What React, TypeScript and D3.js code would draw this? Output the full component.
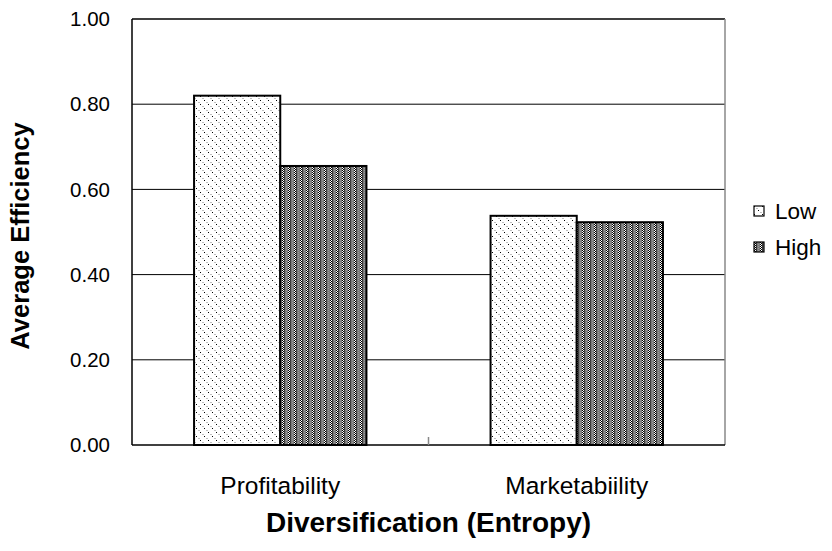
import React from "react";
import * as d3 from "d3";

const categories = ["Profitability", "Marketabiility"];
const seriesNames = ["Low", "High"];
const lowValues = [0.82, 0.538];
const highValues = [0.655, 0.523];
const yTicks = [0, 0.2, 0.4, 0.6, 0.8, 1.0];

const W = 832;
const H = 551;
const left = 132;
const right = 725;
const top = 19;
const bottom = 445;

export default function App() {
  const values = [lowValues, highValues]; // values[series][cat]
  const x = d3.scaleBand<string>().domain(categories).range([left, right]).paddingInner(0).paddingOuter(0);
  const inner = d3.scaleBand<string>().domain(seriesNames).range([0, x.bandwidth()]).paddingInner(0).paddingOuter(0.72);
  const y = d3.scaleLinear().domain([0, 1]).range([bottom, top]);
  const fmt = d3.format(".2f");
  const fills = ["url(#patLow)", "url(#patHigh)"];
  const font = "Arial, 'Liberation Sans', sans-serif";

  return (
    <svg width={W} height={H} style={{ position: "absolute", left: 0, top: 0 }} fontFamily={font}>
      <defs>
        <pattern id="patLow" width="8" height="8" patternUnits="userSpaceOnUse">
          <rect width="8" height="8" fill="#ffffff" />
          <rect x="0" y="0" width="1" height="1" fill="#000" />
          <rect x="4" y="4" width="1" height="1" fill="#000" />
          <rect x="2" y="2" width="2" height="1" fill="#c0c0c0" />
          <rect x="6" y="6" width="2" height="1" fill="#c0c0c0" />
        </pattern>
        <pattern id="patHigh" width="6" height="2" patternUnits="userSpaceOnUse">
          <rect width="6" height="2" fill="#7a7a7a" />
          <rect x="0" y="0" width="1" height="1" fill="#000" />
          <rect x="1" y="1" width="1" height="1" fill="#000" />
          <rect x="1" y="0" width="1" height="1" fill="#fff" />
          <rect x="0" y="1" width="1" height="1" fill="#fff" />
          <rect x="2" y="0" width="1" height="1" fill="#333" />
          <rect x="2" y="1" width="1" height="1" fill="#444" />
          <rect x="4" y="0" width="1" height="1" fill="#999" />
        </pattern>
      </defs>
      {/* gridlines */}
      {yTicks.filter((t) => t > 0 && t < 1).map((t) => (
        <line key={t} x1={left} x2={right} y1={y(t)} y2={y(t)} stroke="#000" strokeWidth={1} />
      ))}
      {/* frame */}
      <line x1={left} x2={right} y1={top} y2={top} stroke="#000" strokeWidth={1.5} />
      <line x1={right} x2={right} y1={top} y2={bottom} stroke="#888" strokeWidth={1.5} />
      <line x1={left} x2={left} y1={top} y2={bottom} stroke="#000" strokeWidth={1.5} />
      {/* bars */}
      {categories.map((c, ci) =>
        seriesNames.map((s, si) => {
          const v = values[si][ci];
          const bx = (x(c) ?? 0) + (inner(s) ?? 0);
          return (
            <rect
              key={c + s}
              x={bx}
              y={y(v)}
              width={inner.bandwidth()}
              height={bottom - y(v)}
              fill={fills[si]}
              stroke="#000"
              strokeWidth={2}
            />
          );
        })
      )}
      <line x1={left} x2={right} y1={bottom} y2={bottom} stroke="#000" strokeWidth={1.5} />
      {/* category divider tick */}
      <line x1={(x(categories[1]) ?? 0)} x2={(x(categories[1]) ?? 0)} y1={bottom} y2={bottom - 8} stroke="#888" strokeWidth={1.5} />
      {/* y tick labels */}
      {yTicks.map((t) => (
        <text key={t} x={110} y={y(t)} dy="0.35em" textAnchor="end" fontSize={20.5} fill="#000">
          {fmt(t)}
        </text>
      ))}
      {/* category labels */}
      {categories.map((c) => (
        <text key={c} x={(x(c) ?? 0) + x.bandwidth() / 2} y={494} textAnchor="middle" fontSize={24.5} fill="#000">
          {c}
        </text>
      ))}
      {/* axis titles */}
      <text x={(left + right) / 2} y={532} textAnchor="middle" fontSize={28} fontWeight="bold" fill="#000">
        Diversification (Entropy)
      </text>
      <text transform={`translate(29, ${(top + bottom) / 2 + 4}) rotate(-90)`} textAnchor="middle" fontSize={25.5} fontWeight="bold" fill="#000">
        Average Efficiency
      </text>
      {/* legend */}
      {seriesNames.map((s, si) => (
        <g key={s} transform={`translate(754, ${206 + si * 36})`}>
          <rect x={0} y={0} width={10} height={10} fill={fills[si]} stroke="#000" strokeWidth={1.2} />
          <text x={21} y={5} dy="0.35em" fontSize={22.5} fill="#000">
            {s}
          </text>
        </g>
      ))}
    </svg>
  );
}
